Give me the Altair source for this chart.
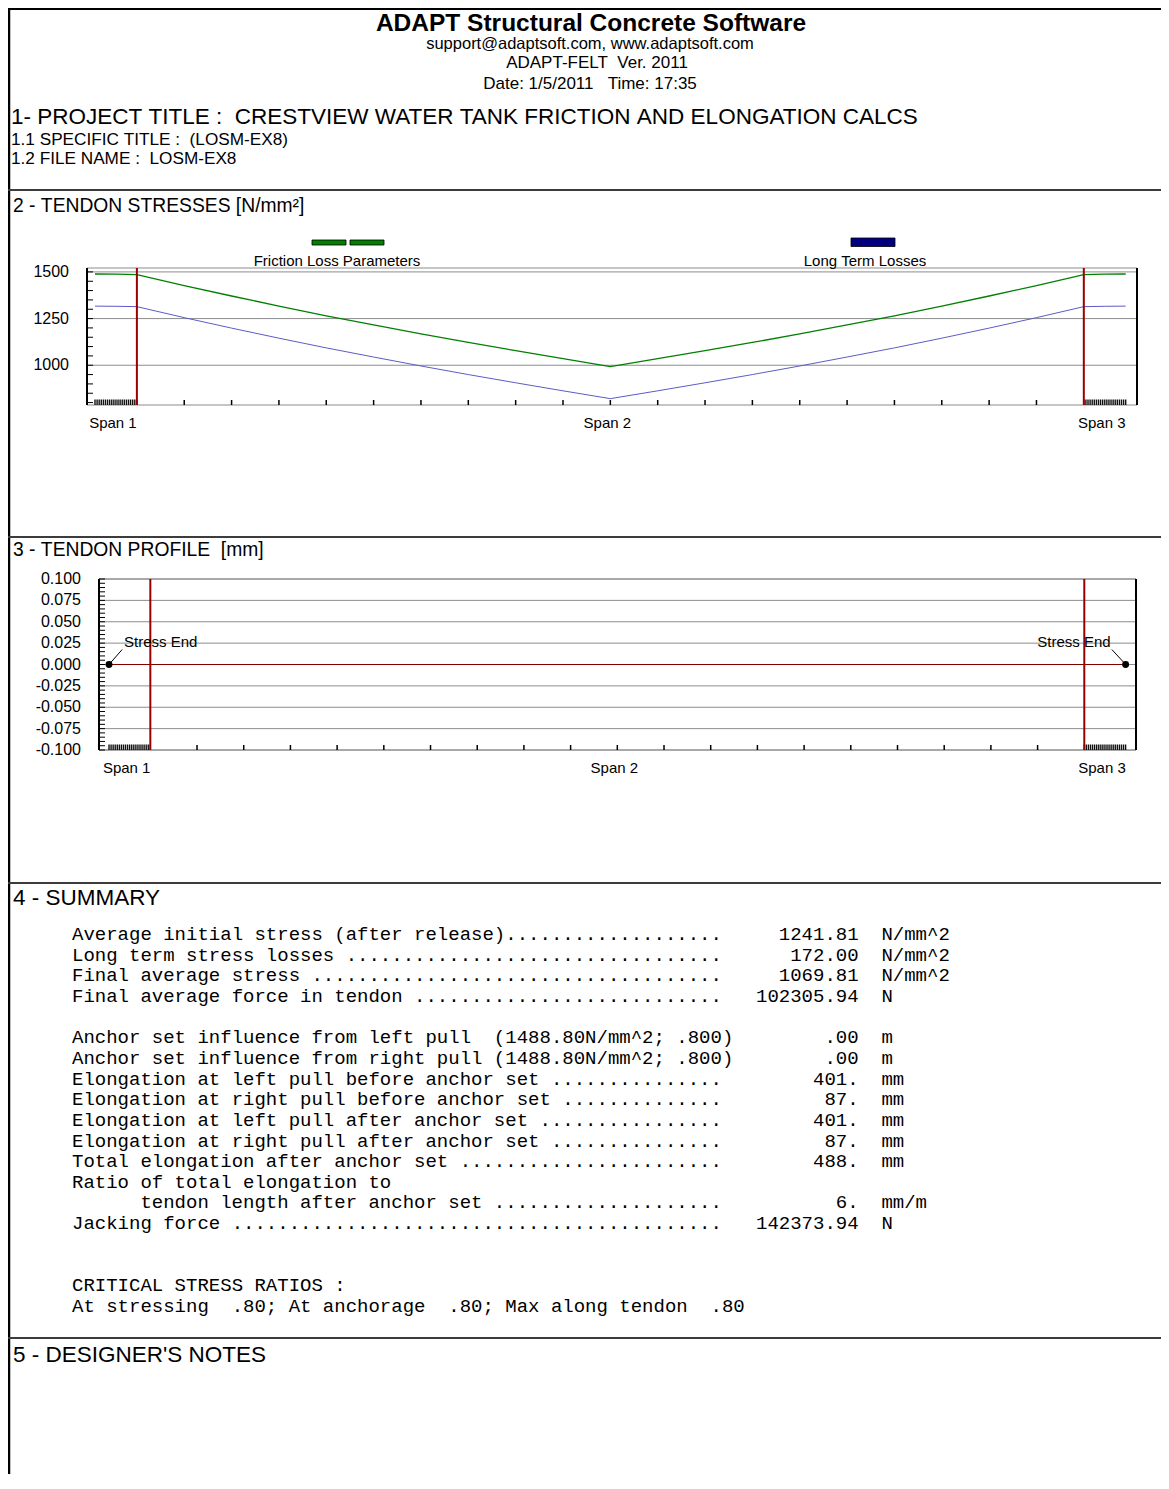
import altair as alt
import pandas as pd

# ------------------------------------------------------------------ data
HEADER_TITLE = "ADAPT Structural Concrete Software"
HEADER_LINES = ["support@adaptsoft.com, www.adaptsoft.com",
                "ADAPT-FELT  Ver. 2011",
                "Date: 1/5/2011   Time: 17:35"]
PROJECT_TITLE = "1- PROJECT TITLE :  CRESTVIEW WATER TANK FRICTION AND ELONGATION CALCS"
PROJECT_SUB = ["1.1 SPECIFIC TITLE :  (LOSM-EX8)", "1.2 FILE NAME :  LOSM-EX8"]
SECTION_TITLES = ["2 - TENDON STRESSES [N/mm²]", "3 - TENDON PROFILE  [mm]",
                  "4 - SUMMARY", "5 - DESIGNER'S NOTES"]

LEGEND_LABELS = ["Friction Loss Parameters", "Long Term Losses"]

SPAN_LABELS = ["Span 1", "Span 2", "Span 3"]
SPAN_CENTERS = [1.65, 40.6, 79.55]          # m
SUPPORTS = [3.3, 77.9]                       # m
STRESS_ENDS = [0.0, 81.2]                    # m
SPAN2_TICKS = [round(3.3 + 3.73 * k, 2) for k in range(1, 20)]
HATCH_TICKS = [round(0.165 * k, 3) for k in range(21)] + \
              [round(77.9 + 0.165 * k, 3) for k in range(21)]

STRESS_X = [0.0, 1.65, 3.3, 7.03, 10.76, 14.49, 18.22, 21.95, 25.68, 29.41, 33.14,
            36.87, 40.6, 44.33, 48.06, 51.79, 55.52, 59.25, 62.98, 66.71, 70.44,
            74.17, 77.9, 79.55, 81.2]
FRICTION = [1488.8, 1487.8, 1486, 1427, 1371, 1317, 1265, 1216, 1168, 1122, 1078,
            1035, 993, 1035, 1078, 1122, 1168, 1216, 1265, 1317, 1371, 1427, 1486,
            1487.8, 1488.8]
LONG_TERM = [1316.8, 1315.8, 1314, 1255, 1199, 1145, 1093, 1044, 996, 950, 906,
             863, 821, 863, 906, 950, 996, 1044, 1093, 1145, 1199, 1255, 1314,
             1315.8, 1316.8]

STRESS_TICKS = [1000, 1250, 1500]
STRESS_TICK_LABELS = ["1000", "1250", "1500"]
STRESS_MINOR = list(range(800, 1501, 50))

PROFILE_X = [0.0, 81.2]
PROFILE_Z = [0.0, 0.0]
PROFILE_TICKS = [-0.1, -0.075, -0.05, -0.025, 0.0, 0.025, 0.05, 0.075, 0.1]
PROFILE_TICK_LABELS = ["-0.100", "-0.075", "-0.050", "-0.025", "0.000",
                       "0.025", "0.050", "0.075", "0.100"]
PROFILE_MINOR = [round(-0.1 + 0.005 * k, 3) for k in range(41)]

SUMMARY_ROWS = [0, 1, 2, 3, 5, 6, 7, 8, 9, 10, 11, 12, 13, 14, 17, 18]
SUMMARY_INDENT = [0, 0, 0, 0, 0, 0, 0, 0, 0, 0, 0, 0, 6, 0, 0, 0]
SUMMARY_LABELS = [
    "Average initial stress (after release)",
    "Long term stress losses ",
    "Final average stress ",
    "Final average force in tendon ",
    "Anchor set influence from left pull  (1488.80N/mm^2; .800)",
    "Anchor set influence from right pull (1488.80N/mm^2; .800)",
    "Elongation at left pull before anchor set ",
    "Elongation at right pull before anchor set ",
    "Elongation at left pull after anchor set ",
    "Elongation at right pull after anchor set ",
    "Total elongation after anchor set ",
    "Ratio of total elongation to",
    "tendon length after anchor set ",
    "Jacking force ",
    "CRITICAL STRESS RATIOS :",
    "At stressing  .80; At anchorage  .80; Max along tendon  .80",
]
SUMMARY_DOTTED = [True, True, True, True, False, False, True, True, True, True,
                  True, False, True, True, False, False]
SUMMARY_VALUES = ["1241.81", "172.00", "1069.81", "102305.94", ".00", ".00",
                  "401.", "87.", "401.", "87.", "488.", "", "6.", "142373.94", "", ""]
SUMMARY_UNITS = ["N/mm^2", "N/mm^2", "N/mm^2", "N", "m", "m", "mm", "mm", "mm",
                 "mm", "mm", "", "mm/m", "N", "", ""]

# ------------------------------------------------------------------ style
SANS = "Liberation Sans, Arial, sans-serif"
MONO = "Courier New, Liberation Mono, monospace"
GRID = "#8c8c8c"
SEP = "#3c3c3c"
RED = "#990000"
GREEN = "#008000"
BLUE = "#5c5cc8"
NAVY = "#000080"
NB = "\u00a0"
ONE = pd.DataFrame({"k": [0]})
CHAR_W = 11.4          # advance of the 19px monospace font


def nb(s):
    return s.replace(" ", NB)


def c(v):  # reference page pixel -> chart pixel
    return v - 8


def hline(y, x1, x2, color, w=1.0):
    return alt.Chart(ONE).mark_rule(color=color, strokeWidth=w).encode(
        x=alt.value(x1), x2=alt.value(x2), y=alt.value(y))


def vline(x, y1, y2, color, w=1.0):
    return alt.Chart(ONE).mark_rule(color=color, strokeWidth=w).encode(
        x=alt.value(x), y=alt.value(y1), y2=alt.value(y2))


def label(text, x, y, size, align="left", weight="normal", font=SANS):
    return alt.Chart(ONE).mark_text(
        text=nb(text), align=align, baseline="middle", fontSize=size,
        fontWeight=weight, font=font, color="black").encode(
        x=alt.value(x), y=alt.value(y))


def box(x1, x2, y1, y2, fill, stroke="black", sw=0.8):
    return alt.Chart(ONE).mark_rect(fill=fill, stroke=stroke, strokeWidth=sw).encode(
        x=alt.value(x1), x2=alt.value(x2), y=alt.value(y1), y2=alt.value(y2))


def panel(xs, ys, left, right, top, bottom, ticks, tick_labels, minor,
          minor_len, label_x, span_y):
    L = []
    L.append(alt.Chart(pd.DataFrame({"v": ticks})).mark_rule(
        color=GRID, strokeWidth=1).encode(
        y=alt.Y("v:Q", scale=ys, axis=None), x=alt.value(left), x2=alt.value(right)))
    L.append(hline(top, left, right, GRID, 1.2))
    L.append(hline(bottom, left, right, GRID, 1.2))
    L.append(alt.Chart(pd.DataFrame({"v": minor})).mark_rule(
        color="black", strokeWidth=1).encode(
        y=alt.Y("v:Q", scale=ys, axis=None), x=alt.value(left),
        x2=alt.value(left + minor_len)))
    L.append(vline(left, top, bottom, "black", 2))
    L.append(vline(right, top, bottom, "black", 2))
    L.append(alt.Chart(pd.DataFrame({"v": ticks, "lab": tick_labels})).mark_text(
        align="right", baseline="middle", fontSize=16, font=SANS, color="black").encode(
        y=alt.Y("v:Q", scale=ys, axis=None), x=alt.value(label_x), text="lab:N"))
    L.append(alt.Chart(pd.DataFrame({"x": SPAN2_TICKS})).mark_rule(
        color="black", strokeWidth=1.5).encode(
        x=alt.X("x:Q", scale=xs, axis=None), y=alt.value(bottom - 5),
        y2=alt.value(bottom)))
    L.append(alt.Chart(pd.DataFrame({"x": HATCH_TICKS})).mark_rule(
        color="#111111", strokeWidth=1.4).encode(
        x=alt.X("x:Q", scale=xs, axis=None), y=alt.value(bottom - 5.5),
        y2=alt.value(bottom)))
    L.append(alt.Chart(pd.DataFrame({"x": SPAN_CENTERS, "s": SPAN_LABELS})).mark_text(
        align="center", baseline="middle", fontSize=15, font=SANS, color="black",
        dx=-3).encode(x=alt.X("x:Q", scale=xs, axis=None), y=alt.value(span_y),
                      text="s:N"))
    return L


layers = []

# ------------------------------------------------------------------ page frame
layers.append(vline(1, 0, 1466, "black", 2.5))
layers.append(hline(1, 0, 1153, "black", 2))
for ysep in [190, 537, 883, 1338]:
    layers.append(hline(c(ysep), 0, 1153, SEP, 2))

# ------------------------------------------------------------------ header
layers.append(label(HEADER_TITLE, c(591), c(23.5), 24.5, align="center", weight="bold"))
for txt, xx, yy in zip(HEADER_LINES, [590, 597, 590], [44, 63, 84]):
    layers.append(label(txt, c(xx), c(yy), 16.5 if yy == 44 else 17, align="center"))
layers.append(label(PROJECT_TITLE, 3, c(117), 22.5))
for txt, yy in zip(PROJECT_SUB, [139.5, 159]):
    layers.append(label(txt, 3, c(yy), 17.2))

for txt, yy, sz in zip(SECTION_TITLES, [206, 550, 898, 1355], [19.3, 19.3, 22.5, 22.5]):
    layers.append(label(txt, c(13), c(yy), sz))

# ------------------------------------------------------------------ stresses chart
XS2 = alt.Scale(domain=[-0.63, 82.09], range=[c(87), c(1137)], nice=False, zero=False)
YS2 = alt.Scale(domain=[787, 1521], range=[c(405), c(268)], nice=False, zero=False)

layers += panel(XS2, YS2, c(87), c(1137), c(268), c(405), STRESS_TICKS,
                STRESS_TICK_LABELS, STRESS_MINOR, 6, c(69), c(423))

stress_df = pd.DataFrame({"x": STRESS_X, "friction": FRICTION, "longterm": LONG_TERM})
layers.append(alt.Chart(stress_df).mark_line(color=BLUE, strokeWidth=1).encode(
    x=alt.X("x:Q", scale=XS2, axis=None), y=alt.Y("longterm:Q", scale=YS2, axis=None)))
layers.append(alt.Chart(stress_df).mark_line(color=GREEN, strokeWidth=1.3).encode(
    x=alt.X("x:Q", scale=XS2, axis=None), y=alt.Y("friction:Q", scale=YS2, axis=None)))
layers.append(alt.Chart(pd.DataFrame({"x": SUPPORTS})).mark_rule(
    color=RED, strokeWidth=2).encode(
    x=alt.X("x:Q", scale=XS2, axis=None), y=alt.value(c(268)), y2=alt.value(c(405))))

# legend
layers.append(box(c(312), c(346), c(240), c(245), GREEN))
layers.append(box(c(350), c(384), c(240), c(245), GREEN))
layers.append(box(c(851), c(895), c(238), c(246.5), NAVY))
layers.append(label(LEGEND_LABELS[0], c(337), c(261), 15, align="center"))
layers.append(label(LEGEND_LABELS[1], c(865), c(261), 15, align="center"))

# ------------------------------------------------------------------ profile chart
XS3 = alt.Scale(domain=[-0.8, 82.03], range=[c(99), c(1136)], nice=False, zero=False)
YS3 = alt.Scale(domain=[-0.1, 0.1], range=[c(750), c(579)], nice=False, zero=False)

layers += panel(XS3, YS3, c(99), c(1136), c(579), c(750), PROFILE_TICKS,
                PROFILE_TICK_LABELS, PROFILE_MINOR, 6, c(81), c(768))

layers.append(alt.Chart(pd.DataFrame({"x": PROFILE_X, "z": PROFILE_Z})).mark_line(
    color="#800000", strokeWidth=1.2).encode(
    x=alt.X("x:Q", scale=XS3, axis=None), y=alt.Y("z:Q", scale=YS3, axis=None)))
layers.append(alt.Chart(pd.DataFrame({"x": SUPPORTS})).mark_rule(
    color=RED, strokeWidth=2).encode(
    x=alt.X("x:Q", scale=XS3, axis=None), y=alt.value(c(579)), y2=alt.value(c(750))))

leader_df = pd.DataFrame({"x1": [0.15, 81.05], "y1": [0.0025, 0.0025],
                          "x2": [1.05, 80.1], "y2": [0.0175, 0.0175]})
layers.append(alt.Chart(leader_df).mark_rule(color="black", strokeWidth=1).encode(
    x=alt.X("x1:Q", scale=XS3, axis=None), x2="x2:Q",
    y=alt.Y("y1:Q", scale=YS3, axis=None), y2="y2:Q"))
ends_df = pd.DataFrame({"x": STRESS_ENDS, "z": [0.0, 0.0]})
layers.append(alt.Chart(ends_df).mark_circle(size=48, color="black", opacity=1).encode(
    x=alt.X("x:Q", scale=XS3, axis=None), y=alt.Y("z:Q", scale=YS3, axis=None)))
layers.append(alt.Chart(ends_df.iloc[[0]]).mark_text(
    text="Stress" + NB + "End", align="left", baseline="middle", fontSize=15, font=SANS,
    color="black", dx=15, dy=-23).encode(
    x=alt.X("x:Q", scale=XS3, axis=None), y=alt.Y("z:Q", scale=YS3, axis=None)))
layers.append(alt.Chart(ends_df.iloc[[1]]).mark_text(
    text="Stress" + NB + "End", align="right", baseline="middle", fontSize=15, font=SANS,
    color="black", dx=-15, dy=-23).encode(
    x=alt.X("x:Q", scale=XS3, axis=None), y=alt.Y("z:Q", scale=YS3, axis=None)))

# ------------------------------------------------------------------ summary
lab_full = []
for t, d, ind in zip(SUMMARY_LABELS, SUMMARY_DOTTED, SUMMARY_INDENT):
    lab_full.append(nb(t + "." * (57 - ind - len(t)) if d else t))
sum_df = pd.DataFrame({"row": SUMMARY_ROWS, "lab": lab_full, "indent": SUMMARY_INDENT,
                       "val": SUMMARY_VALUES, "unit": SUMMARY_UNITS})
ROW_SCALE = dict(domain=[0, 18], range=[c(934), c(934) + 18 * 20.65], nice=False, zero=False)
for ind in sorted(set(SUMMARY_INDENT)):
    sub = sum_df[sum_df["indent"] == ind]
    layers.append(alt.Chart(sub).mark_text(
        align="left", baseline="middle", fontSize=19, font=MONO, color="black").encode(
        x=alt.value(c(72) + ind * CHAR_W),
        y=alt.Y("row:Q", scale=alt.Scale(**ROW_SCALE), axis=None),
        text="lab:N"))
for field, xx, al in [("val", c(72) + 69 * CHAR_W, "right"),
                      ("unit", c(72) + 71 * CHAR_W, "left")]:
    layers.append(alt.Chart(sum_df).mark_text(
        align=al, baseline="middle", fontSize=19, font=MONO, color="black").encode(
        x=alt.value(xx), y=alt.Y("row:Q", scale=alt.Scale(**ROW_SCALE), axis=None),
        text=f"{field}:N"))

chart = alt.layer(*layers).properties(
    width=1153, height=1466, padding=0,
    autosize=alt.AutoSizeParams(type="none"),
).resolve_scale(x="independent", y="independent").configure_view(strokeWidth=0)

chart.save("out.html", embed_options={"renderer": "svg", "actions": False})
